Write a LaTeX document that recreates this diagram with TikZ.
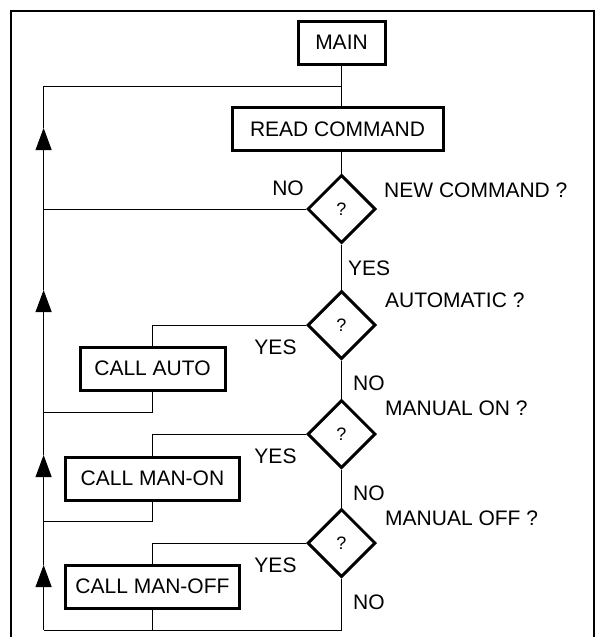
\documentclass[tikz,border=0pt]{standalone}
\usepackage{fontspec}
\setmainfont{Liberation Sans}
\usetikzlibrary{shapes.geometric,arrows.meta}
\begin{document}
\begin{tikzpicture}[x=1pt,y=-1pt,
  every node/.style={font=\fontsize{21}{24}\selectfont},
  box/.style={draw,line width=3pt,rectangle,minimum height=43pt,inner sep=0pt},
  decision/.style={draw,line width=3pt,diamond,aspect=1,minimum width=68pt,minimum height=68pt,inner sep=0pt,font=\fontsize{18}{20}\selectfont},
  flow/.style={line width=1pt},
  uparrow/.style={flow,-{Triangle[width=16pt,length=22pt]}},
  lbl/.style={inner sep=0pt}]
\useasboundingbox (0,0) rectangle (595,637);
% frame
\draw[line width=2.2pt] (11,637) -- (11,11) -- (594,11) -- (594,637);
% nodes
\node[box,minimum width=87pt] (main) at (341.5,42.5) {MAIN};
\node[box,minimum width=211pt] (read) at (337.5,129) {READ COMMAND};
\node[decision] (d1) at (341.5,209) {?};
\node[decision] (d2) at (341.5,325) {?};
\node[decision] (d3) at (341.5,434) {?};
\node[decision] (d4) at (341.5,543) {?};
\node[box,minimum width=145pt] (auto) at (152.5,368.5) {CALL AUTO};
\node[box,minimum width=174pt] (manon) at (152.5,478.5) {CALL MAN-ON};
\node[box,minimum width=174pt] (manoff) at (152.5,586.5) {CALL MAN-OFF};
% coordinates
\coordinate (top) at (341.5,86);
\coordinate (j0) at (43.6,86);
\coordinate (j1) at (43.6,209);
\coordinate (j2) at (43.6,412);
\coordinate (j3) at (43.6,521);
\coordinate (j4) at (43.6,630);
\coordinate (a1) at (43.6,128);
\coordinate (a2) at (43.6,290);
\coordinate (a3) at (43.6,455);
\coordinate (a4) at (43.6,565);
\coordinate (b2) at (152.5,325);
\coordinate (b3) at (152.5,434);
\coordinate (b4) at (152.5,543);
\coordinate (r2) at (152.5,412);
\coordinate (r3) at (152.5,521);
\coordinate (r4) at (152.5,630);
\coordinate (bot) at (341.5,630);
% main trunk
\draw[flow] (main.south) -- (top) -- (top |- read.north);
\draw[flow] (d1.north |- read.south) -- (d1.north);
\draw[flow] (d1.south) -- (d2.north);
\draw[flow] (d2.south) -- (d3.north);
\draw[flow] (d3.south) -- (d4.north);
\draw[flow] (d4.south) -- (bot) -- (j4);
% return line
\draw[flow] (top) -- (j0) -- (a1);
\draw[uparrow] (j1) -- (a1);
\draw[flow] (j1) -- (a2);
\draw[uparrow] (j2) -- (a2);
\draw[flow] (j2) -- (a3);
\draw[uparrow] (j3) -- (a3);
\draw[flow] (j3) -- (a4);
\draw[uparrow] (j4) -- (a4);
% branches
\draw[flow] (d1.west) -- (j1);
\draw[flow] (d2.west) -- (b2) -- (auto.north);
\draw[flow] (auto.south) -- (r2) -- (j2);
\draw[flow] (d3.west) -- (b3) -- (manon.north);
\draw[flow] (manon.south) -- (r3) -- (j3);
\draw[flow] (d4.west) -- (b4) -- (manoff.north);
\draw[flow] (manoff.south) -- (r4);
% labels
\node[lbl] (no1) at (288,188) {NO};
\node[lbl,anchor=west] (q1) at (384,190) {NEW COMMAND ?};
\node[lbl,anchor=west] (yes1) at (348,268) {YES};
\node[lbl,anchor=west] (q2) at (385,300) {AUTOMATIC ?};
\node[lbl] (yes2) at (275.5,347) {YES};
\node[lbl,anchor=west] (no2) at (353,383) {NO};
\node[lbl,anchor=west] (q3) at (385,408) {MANUAL ON ?};
\node[lbl] (yes3) at (275.5,456) {YES};
\node[lbl,anchor=west] (no3) at (353,493) {NO};
\node[lbl,anchor=west] (q4) at (385,518) {MANUAL OFF ?};
\node[lbl] (yes4) at (275.5,565) {YES};
\node[lbl,anchor=west] (no4) at (353,602) {NO};
\end{tikzpicture}
\end{document}
